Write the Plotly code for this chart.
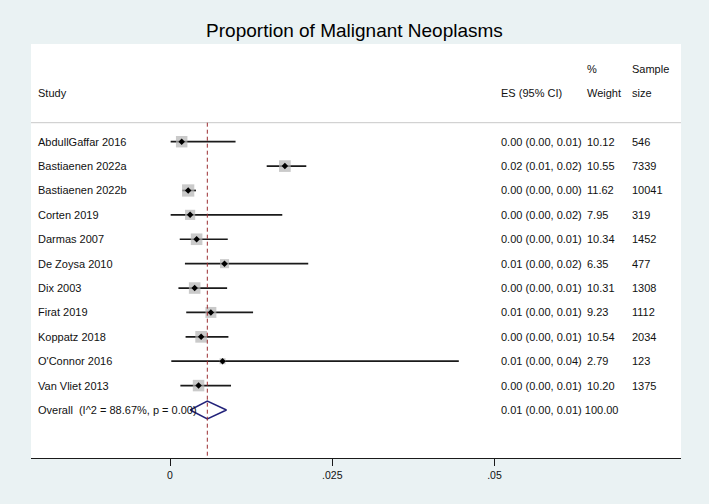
import plotly.graph_objects as go

# ---------------- data ----------------
studies = ["AbdullGaffar 2016", "Bastiaenen 2022a", "Bastiaenen 2022b", "Corten 2019",
           "Darmas 2007", "De Zoysa 2010", "Dix 2003", "Firat 2019", "Koppatz 2018",
           "O'Connor 2016", "Van Vliet 2013"]
es = [0.0018, 0.0177, 0.0028, 0.0031, 0.0041, 0.0084, 0.0038, 0.0063, 0.0048, 0.0081, 0.0044]
ci_lo = [0.0001, 0.0149, 0.0019, 0.0001, 0.0015, 0.0023, 0.0013, 0.0025, 0.0024, 0.0002, 0.0016]
ci_hi = [0.0101, 0.0210, 0.0040, 0.0173, 0.0089, 0.0213, 0.0088, 0.0128, 0.0090, 0.0445, 0.0094]
weights = [10.12, 10.55, 11.62, 7.95, 10.34, 6.35, 10.31, 9.23, 10.54, 2.79, 10.20]
sample_size = [546, 7339, 10041, 319, 1452, 477, 1308, 1112, 2034, 123, 1375]

overall_label = "Overall  (I^2 = 88.67%, p = 0.00)"
overall_es = 0.00575
overall_lo = 0.0031
overall_hi = 0.0087
overall_weight = 100.00

tick_vals = [0, 0.025, 0.05]
tick_text = ["0", ".025", ".05"]

title = "Proportion of Malignant Neoplasms"
header_top = {"weight": "%", "size": "Sample"}
header_bottom = {"study": "Study", "es": "ES (95% CI)", "weight": "Weight", "size": "size"}

# ---------------- layout constants ----------------
W, H = 709, 504
L, R, T, B = 31, 681, 44, 458          # plot area in pixels
PX0, PX_PER_UNIT = 170.0, 6490.0       # x-pixel of 0 and pixels per unit
ROW0, ROW_STEP = 141.7, 24.39          # y-pixel of first row and row spacing

x_range = [(L - PX0) / PX_PER_UNIT, (R - PX0) / PX_PER_UNIT]
y_top = (T - ROW0) / ROW_STEP
y_bot = (B - ROW0) / ROW_STEP

def px_to_paper_x(px):
    return (px - L) / (R - L)

FONT = "Liberation Sans, Arial, Helvetica, sans-serif"
TXT = "#111111"

rows = list(range(len(studies)))
overall_row = len(studies)

fig = go.Figure()

# CI lines
for i in rows:
    fig.add_trace(go.Scatter(x=[ci_lo[i], ci_hi[i]], y=[i, i], mode="lines",
                             line=dict(color="#1a1a1a", width=1.7),
                             hoverinfo="skip", showlegend=False))

# Weight boxes (area ~ weight)
fig.add_trace(go.Scatter(x=es, y=rows, mode="markers",
                         marker=dict(symbol="square", color="#b3b3b3",
                                     size=[3.6 * w ** 0.5 for w in weights],
                                     line=dict(width=0)),
                         hoverinfo="skip", showlegend=False))
# Point estimate dots
fig.add_trace(go.Scatter(x=es, y=rows, mode="markers",
                         marker=dict(symbol="diamond", color="#000000", size=5,
                                     line=dict(width=0)),
                         hoverinfo="skip", showlegend=False))

# Overall diamond
dh = 9.0 / ROW_STEP
fig.add_trace(go.Scatter(x=[overall_lo, overall_es, overall_hi, overall_es, overall_lo],
                         y=[overall_row, overall_row - dh, overall_row, overall_row + dh, overall_row],
                         mode="lines", line=dict(color="#22227a", width=1.5),
                         hoverinfo="skip", showlegend=False))

sep_y = (122.7 - ROW0) / ROW_STEP

shapes = [
    dict(type="line", xref="paper", yref="y", x0=0, x1=1, y0=sep_y, y1=sep_y,
         line=dict(color="#c8c8c8", width=1)),
    dict(type="line", xref="x", yref="y", x0=overall_es, x1=overall_es, y0=sep_y, y1=y_bot,
         line=dict(color="#9b2d30", width=1, dash="4px,3px")),
]

annotations = []

def add_text(px, row, text, size=11):
    annotations.append(dict(x=px_to_paper_x(px), y=row, xref="paper", yref="y",
                            text=text, showarrow=False, xanchor="left", yanchor="middle",
                            borderpad=0, borderwidth=0,
                            font=dict(family=FONT, size=size, color=TXT)))

COL_STUDY, COL_ES, COL_W, COL_N = 38, 501, 587, 631.5

# headers
add_text(COL_W, -3, header_top["weight"])
add_text(COL_N, -3, header_top["size"])
add_text(COL_STUDY, -2, header_bottom["study"])
add_text(COL_ES, -2, header_bottom["es"])
add_text(COL_W, -2, header_bottom["weight"])
add_text(COL_N, -2, header_bottom["size"])

for i in rows:
    add_text(COL_STUDY, i, studies[i])
    add_text(COL_ES, i, f"{es[i]:.2f} ({ci_lo[i]:.2f}, {ci_hi[i]:.2f})")
    add_text(COL_W, i, f"{weights[i]:.2f}")
    add_text(COL_N, i, f"{sample_size[i]}")

add_text(COL_STUDY, overall_row, overall_label)
add_text(COL_ES, overall_row, f"{overall_es:.2f} ({overall_lo:.2f}, {overall_hi:.2f}) {overall_weight:.2f}")

fig.update_layout(
    width=W, height=H,
    margin=dict(l=L, r=W - R, t=T, b=H - B, pad=0),
    paper_bgcolor="#eaf2f3",
    plot_bgcolor="#ffffff",
    title=dict(text=title, x=0.5, xanchor="center", y=1 - 30 / H, yanchor="middle",
               font=dict(family=FONT, size=19, color="#000000")),
    xaxis=dict(range=x_range, showgrid=False, zeroline=False,
               showline=True, linecolor="#1a1a1a", linewidth=1.2,
               ticks="outside", ticklen=7, tickwidth=1, tickcolor="#1a1a1a",
               tickvals=tick_vals, ticktext=tick_text,
               tickfont=dict(family=FONT, size=10.5, color=TXT)),
    yaxis=dict(range=[y_bot, y_top], visible=False, showgrid=False, zeroline=False),
    shapes=shapes,
    annotations=annotations,
    hovermode=False,
)

fig.write_html("out.html", config={"displayModeBar": False})
